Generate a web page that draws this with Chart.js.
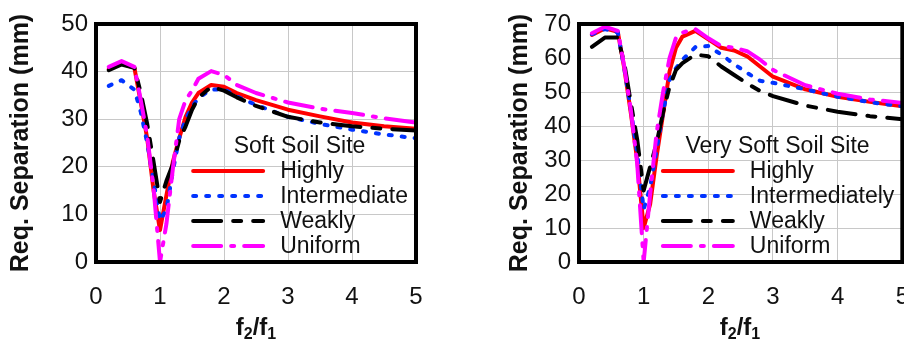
<!DOCTYPE html>
<html>
<head>
<meta charset="utf-8">
<script src="https://cdn.jsdelivr.net/npm/chart.js@4.4.0/dist/chart.umd.min.js"></script>
<style>
  html, body { margin: 0; padding: 0; background: #fff; }
  body { width: 904px; height: 342px; position: relative; overflow: hidden; font-family: 'Liberation Sans', Arial, sans-serif; }
  canvas { position: absolute; top: 0; }
  #softChart { left: 0; }
  #verySoftChart { left: 460px; }
  .xtitle { position: absolute; top: 315px; font-size: 24px; line-height: 24px; font-weight: bold; color: #111; transform: translateX(-50%); white-space: nowrap; }
  .xtitle sub { font-size: 16px; line-height: 0; vertical-align: -4px; }
</style>
</head>
<body>
<canvas id="softChart" width="440" height="342"></canvas>
<canvas id="verySoftChart" width="450" height="342"></canvas>
<div class="xtitle" style="left:256px">f<sub>2</sub>/f<sub>1</sub></div>
<div class="xtitle" style="left:740px">f<sub>2</sub>/f<sub>1</sub></div>
<script>
// Soft soil site (left panel)
const softRatio = [0.2, 0.4, 0.6, 0.7, 0.8, 0.9, 1.0, 1.1, 1.2, 1.3, 1.4, 1.5, 1.6, 1.8, 2.0, 2.2, 2.5, 3.0, 3.5, 4.0, 4.5, 5.0];
const softHighly       = [40.5, 41.7, 40.8, 33.5, 26, 15, 6.7, 14, 21, 26, 30.5, 33.5, 35.5, 37.2, 36.8, 35.5, 34, 32, 30.6, 29.3, 28.5, 28];
const softIntermediate = [37, 38.2, 36.2, 31.5, 25, 17, 8.7, 11, 19, 26, 30, 32.5, 34.5, 36.2, 36.3, 34.8, 33, 30.5, 29, 27.8, 26.8, 26];
const softWeakly       = [40.3, 41.5, 40.8, 35.5, 29, 21, 12.6, 17, 20.5, 25.5, 28.5, 32, 34.5, 36.8, 36, 34.6, 32.8, 30.5, 29.3, 28.5, 28, 27.6];
const softUniform      = [41, 42.2, 41, 34, 26.5, 15.5, 0, 8, 19.5, 30, 34, 36, 38.5, 40.1, 39.3, 37.2, 35.5, 33.5, 32.2, 31.3, 30.2, 29.3];

// Very soft soil site (right panel)
const verySoftRatio = [0.2, 0.4, 0.6, 0.7, 0.8, 0.9, 1.0, 1.1, 1.2, 1.3, 1.4, 1.5, 1.6, 1.8, 2.0, 2.2, 2.4, 2.6, 2.8, 3.0, 3.5, 4.0, 4.5, 5.0];
const verySoftHighly         = [66.8, 68.7, 67.7, 57, 44, 30, 10, 17, 31, 43.5, 56, 63, 66.3, 68, 65.5, 63, 62.2, 60.5, 57.5, 54.5, 50.8, 48.6, 47.1, 45.8];
const verySoftIntermediately = [67, 68.5, 67.5, 57, 45, 32, 15.5, 22, 33, 44, 53.5, 57, 59.5, 63.2, 63.5, 61, 58.2, 55.6, 53.3, 52.7, 50.8, 48.6, 47, 45.8];
const verySoftWeakly         = [63.3, 66, 66, 58.5, 47, 36, 21, 28, 35, 44, 51.5, 56.5, 58.5, 61, 60.5, 57.5, 55, 52.5, 50.3, 48.8, 46, 44.2, 42.9, 42];
const verySoftUniform        = [67.3, 69.2, 68, 57.5, 45, 29, 0, 20, 38, 50, 60, 66, 67.5, 68.5, 65.8, 63.5, 63, 62, 59.5, 56.5, 52, 49.5, 47.8, 46.8];

const xTicks = [0, 1, 2, 3, 4, 5];
const FONT = "'Liberation Sans', Arial, sans-serif";

// thick black box round the plot area
const framePlugin = {
    id: 'frame',
    afterDatasetsDraw(chart) {
        const { ctx, chartArea } = chart;
        ctx.save();
        ctx.strokeStyle = '#000';
        ctx.lineWidth = 4;
        ctx.strokeRect(chartArea.left, chartArea.top, chartArea.right - chartArea.left, chartArea.bottom - chartArea.top);
        ctx.restore();
    }
};

// legend drawn inside the plot, lower right, no box
const insideLegend = {
    id: 'insideLegend',
    afterDraw(chart, args, opts) {
        const { ctx, chartArea } = chart;
        const items = chart.data.datasets;
        ctx.save();
        ctx.font = '23px ' + FONT;
        const textW = Math.max(...items.map(d => ctx.measureText(d.label).width));
        const sampleLen = 74, gap = 15;
        const right = chartArea.right - 8;
        const left = right - textW - gap - sampleLen;
        ctx.fillStyle = '#111';
        ctx.textBaseline = 'alphabetic';
        ctx.textAlign = 'center';
        ctx.fillText(opts.title, (left + right) / 2, chartArea.bottom - 109);
        ctx.textAlign = 'left';
        items.forEach((d, i) => {
            const y = chartArea.bottom - 91 + 25 * i;
            ctx.strokeStyle = d.borderColor;
            ctx.lineWidth = 4;
            ctx.lineCap = 'round';
            ctx.setLineDash(d.borderDash || []);
            ctx.beginPath();
            ctx.moveTo(left + 2, y);
            ctx.lineTo(left + sampleLen - 2, y);
            ctx.stroke();
            ctx.setLineDash([]);
            ctx.fillText(d.label, left + sampleLen + gap, y + 7);
        });
        ctx.restore();
    }
};

function series(label, xs, ys, color, dash, order) {
    return {
        label: label,
        data: xs.map((x, i) => ({ x: x, y: ys[i] })),
        borderColor: color,
        borderDash: dash,
        borderWidth: 4,
        borderCapStyle: 'round',
        borderJoinStyle: 'round',
        pointRadius: 0,
        tension: 0,
        fill: false,
        order: order
    };
}

function makePanel(canvasId, datasets, yMax, titlePad, yWidth, padRight, legendTitle) {
    return new Chart(document.getElementById(canvasId), {
        type: 'line',
        data: { datasets: datasets },
        options: {
            responsive: false,
            animation: false,
            layout: { padding: { top: 24, right: padRight, left: 0, bottom: 0 } },
            plugins: {
                legend: { display: false },
                tooltip: { enabled: false },
                insideLegend: { title: legendTitle }
            },
            scales: {
                x: {
                    type: 'linear',
                    min: 0,
                    max: 5,
                    afterBuildTicks: s => { s.ticks = xTicks.map(v => ({ value: v })); },
                    ticks: { color: '#111', padding: 1, font: { family: FONT, size: 24 } },
                    // invisible tick marks push the labels down without widening the side padding
                    grid: { color: '#c8c8c8', lineWidth: 1, drawTicks: true, tickLength: 20, tickColor: 'rgba(0,0,0,0)' },
                    border: { display: false },
                    afterFit: s => { s.height = 80; }
                },
                y: {
                    min: 0,
                    max: yMax,
                    ticks: { stepSize: 10, color: '#111', padding: 8, font: { family: FONT, size: 24 } },
                    grid: { color: '#c8c8c8', lineWidth: 1, drawTicks: false },
                    border: { display: false },
                    title: {
                        display: true,
                        text: 'Req. Separation (mm)',
                        color: '#111',
                        font: { family: FONT, size: 25, weight: 'bold' },
                        padding: { top: titlePad, bottom: 0 }
                    },
                    afterFit: s => { s.width = yWidth; }
                }
            }
        },
        plugins: [framePlugin, insideLegend]
    });
}

makePanel('softChart', [
    series('Highly', softRatio, softHighly, '#ff0000', [], 4),
    series('Intermediate', softRatio, softIntermediate, '#0033ff', [3, 10], 3),
    series('Weakly', softRatio, softWeakly, '#000000', [28, 12, 8, 12], 2),
    series('Uniform', softRatio, softUniform, '#ff00ff', [28, 10, 3, 10], 1)
], 50, 6, 96, 24, 'Soft Soil Site');

makePanel('verySoftChart', [
    series('Highly', verySoftRatio, verySoftHighly, '#ff0000', [], 4),
    series('Intermediately', verySoftRatio, verySoftIntermediately, '#0033ff', [3, 10], 3),
    series('Weakly', verySoftRatio, verySoftWeakly, '#000000', [28, 12, 8, 12], 2),
    series('Uniform', verySoftRatio, verySoftUniform, '#ff00ff', [28, 10, 3, 10], 1)
], 70, 45, 119, 5, 'Very Soft Soil Site');
</script>
</body>
</html>
